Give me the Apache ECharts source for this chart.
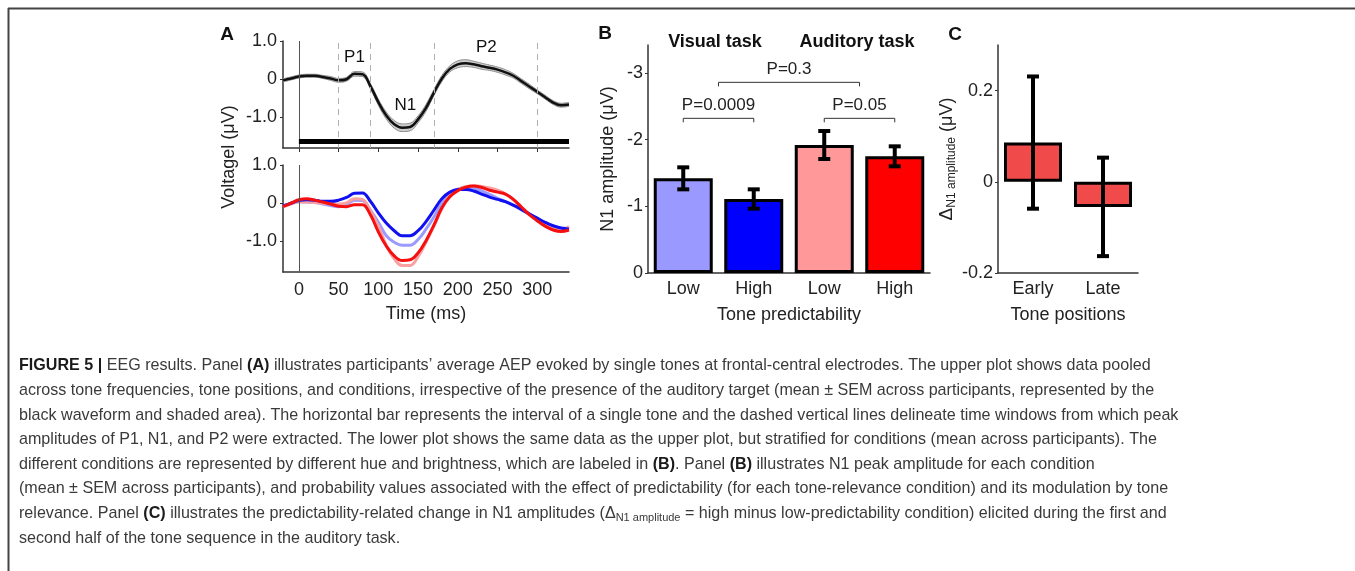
<!DOCTYPE html>
<html>
<head>
<meta charset="utf-8">
<script src="https://cdn.jsdelivr.net/npm/echarts@6/dist/echarts.min.js"></script>
<style>
    html, body {margin: 0; padding: 0; background: #fff;}
    #fig {width: 1355px; height: 571px;}
</style>
</head>
<body>
<div id="fig"></div>
<script>
// ---- Panel A data (ms, µV) ----
var times = [-20, -10, 0, 10, 20, 30, 40, 50, 60, 70, 80, 90, 100, 110, 120, 130, 140, 150, 160, 170,
    180, 190, 200, 210, 220, 230, 240, 250, 260, 270, 280, 290, 300, 310, 320, 330, 340];
var meanAEP = [-0.03, 0.02, 0.07, 0.09, 0.09, 0.06, 0.02, -0.03, 0.0, 0.14, 0.13, -0.18, -0.6, -0.95, -1.18, -1.27, -1.25, -1.05, -0.75, -0.35,
    0.02, 0.27, 0.39, 0.42, 0.39, 0.34, 0.30, 0.25, 0.18, 0.09, -0.05, -0.19, -0.33, -0.47, -0.61, -0.68, -0.66];
var semAEP = [0.04, 0.04, 0.04, 0.04, 0.04, 0.04, 0.05, 0.05, 0.05, 0.06, 0.06, 0.07, 0.08, 0.09, 0.1, 0.1, 0.1, 0.09, 0.09, 0.08,
    0.08, 0.08, 0.09, 0.09, 0.08, 0.08, 0.07, 0.07, 0.07, 0.06, 0.06, 0.06, 0.05, 0.05, 0.05, 0.05, 0.05];
var visualLow = [-0.07, -0.01, 0.04, 0.03, 0.02, -0.02, -0.06, -0.09, -0.03, 0.08, 0.07, -0.18, -0.5, -0.85, -1.02, -1.1, -1.1, -0.95, -0.68, -0.36,
    0.0, 0.25, 0.37, 0.42, 0.4, 0.32, 0.23, 0.13, 0.04, -0.06, -0.17, -0.29, -0.40, -0.51, -0.60, -0.66, -0.65];
var visualHigh = [-0.07, 0.0, 0.07, 0.09, 0.08, 0.05, 0.05, 0.08, 0.15, 0.26, 0.27, 0.05, -0.25, -0.52, -0.72, -0.85, -0.85, -0.72, -0.48, -0.18,
    0.12, 0.29, 0.36, 0.36, 0.32, 0.24, 0.16, 0.10, 0.04, -0.05, -0.16, -0.28, -0.39, -0.50, -0.59, -0.65, -0.68];
var auditoryLow = [-0.09, -0.02, 0.04, 0.03, 0.02, 0.0, -0.01, -0.02, 0.01, 0.12, 0.1, -0.2, -0.6, -1.1, -1.45, -1.63, -1.63, -1.4, -1.02, -0.6,
    -0.14, 0.2, 0.36, 0.43, 0.46, 0.44, 0.4, 0.34, 0.24, 0.09, -0.1, -0.28, -0.43, -0.56, -0.66, -0.7, -0.61];
var auditoryHigh = [-0.09, 0.0, 0.09, 0.12, 0.08, 0.03, -0.02, -0.08, -0.09, -0.04, -0.04, -0.3, -0.75, -1.12, -1.38, -1.5, -1.48, -1.3, -0.98, -0.57,
    -0.12, 0.17, 0.33, 0.42, 0.45, 0.41, 0.34, 0.29, 0.24, 0.1, -0.1, -0.3, -0.46, -0.6, -0.7, -0.74, -0.7];
var timeTicks = [0, 50, 100, 150, 200, 250, 300];
var voltTicks = [-1, 0, 1];
var windowEdges = [50, 90, 170, 300];   // dashed time windows
var toneBar = [0, 340];                 // single tone interval
var toneBarLevel = -1.62;
var peakNames = ['P1', 'N1', 'P2'];
var peakPos = [[70, 0.58], [134, -0.68], [236, 0.84]];

// ---- Panel B data ----
var bCategories = ['Low', 'High', 'Low', 'High'];
var n1Amp = [-1.42, -1.11, -1.92, -1.75];
var n1Sem = [0.165, 0.145, 0.21, 0.15];
var n1Ticks = [-3, -2, -1, 0];
var pTexts = ['P=0.0009', 'P=0.05', 'P=0.3'];
var pFrom = [0, 2, 0.5];
var pTo = [1, 3, 2.5];
var pLevel = [-2.32, -2.32, -2.86];

// ---- Panel C data ----
var cCategories = ['Early', 'Late'];
var deltaN1 = [0.086, -0.055];
var deltaSem = [0.145, 0.108];
var deltaTicks = [-0.2, 0, 0.2];

var FONT = '"Liberation Sans", Arial, Helvetica, sans-serif';
var barColors = ['#9999ff', '#0000ff', '#ff9999', '#ff0000'];

function fmtVolt(v) {
    return v === 0 ? '0' : v.toFixed(1);
}

function pairs(ys) {
    return times.map(function (t, i) { return [t, ys[i]]; });
}

// x position along a category axis, allowing halfway positions
function catPoint(api, c, v) {
    var lo = Math.floor(c), hi = Math.ceil(c);
    var a = api.coord([lo, v]), b = api.coord([hi, v]);
    return [a[0] + (b[0] - a[0]) * (c - lo), a[1]];
}

function errorBars(params, api) {
    var x = api.value(0), m = api.value(1), s = api.value(2);
    var p1 = api.coord([x, m - s]);
    var p2 = api.coord([x, m + s]);
    var cap = 6;
    var st = {stroke: '#000', lineWidth: 4};
    return {
        type: 'group',
        children: [
            {type: 'line', shape: {x1: p1[0], y1: p1[1], x2: p2[0], y2: p2[1]}, style: st},
            {type: 'line', shape: {x1: p1[0] - cap, y1: p1[1], x2: p1[0] + cap, y2: p1[1]}, style: st},
            {type: 'line', shape: {x1: p2[0] - cap, y1: p2[1], x2: p2[0] + cap, y2: p2[1]}, style: st}
        ]
    };
}

function brackets(params, api) {
    var i = params.dataIndex;
    var a = catPoint(api, pFrom[i], pLevel[i]);
    var b = catPoint(api, pTo[i], pLevel[i]);
    var st = {stroke: '#333', lineWidth: 1};
    return {
        type: 'group',
        children: [
            {type: 'line', shape: {x1: a[0], y1: a[1], x2: b[0], y2: b[1]}, style: st},
            {type: 'line', shape: {x1: a[0], y1: a[1], x2: a[0], y2: a[1] + 4}, style: st},
            {type: 'line', shape: {x1: b[0], y1: b[1], x2: b[0], y2: b[1] + 4}, style: st},
            {
                type: 'text',
                style: {
                    text: pTexts[i], x: (a[0] + b[0]) / 2, y: a[1] - 13,
                    align: 'center', verticalAlign: 'middle',
                    fill: '#222', font: '17px ' + FONT
                }
            }
        ]
    };
}

// SEM band as one filled polygon (upper edge then lower edge back)
function semBand(params, api) {
    if (params.dataIndex !== 0) {
        return null;
    }
    var up = [], dn = [];
    times.forEach(function (t, i) {
        up.push(api.coord([t, meanAEP[i] + semAEP[i]]));
        dn.push(api.coord([t, meanAEP[i] - semAEP[i]]));
    });
    return {
        type: 'polygon',
        shape: {points: up.concat(dn.reverse()), smooth: 0.35},
        style: {fill: '#cdcdcd'}
    };
}

function peakLabel(params, api) {
    var p = api.coord([api.value(0), api.value(1)]);
    return {
        type: 'text',
        style: {
            text: peakNames[params.dataIndex], x: p[0], y: p[1],
            align: 'center', verticalAlign: 'middle', fill: '#111', font: '17px ' + FONT
        }
    };
}

var axisLineStyle = {color: '#333', width: 1.5};

var chart = echarts.init(document.getElementById('fig'));
var option = {
    animation: false,
    textStyle: {fontFamily: FONT},
    grid: [
        {left: 283, top: 41, width: 286, height: 107},   // A upper
        {left: 283, top: 165, width: 286, height: 107},  // A lower
        {left: 648, top: 45, width: 282, height: 228},   // B
        {left: 998, top: 45, width: 140, height: 228}    // C
    ],
    xAxis: [
        {
            gridIndex: 0, type: 'value', min: -20, max: 340,
            splitLine: {show: false},
            axisLine: {onZero: false, lineStyle: axisLineStyle},
            axisTick: {show: true, length: 4, customValues: timeTicks, lineStyle: {color: '#333'}},
            axisLabel: {show: false}
        },
        {
            gridIndex: 1, type: 'value', min: -20, max: 340,
            splitLine: {show: false},
            axisLine: {onZero: false, lineStyle: axisLineStyle},
            axisTick: {show: false},
            axisLabel: {customValues: timeTicks, fontSize: 18, color: '#222', margin: 9},
            name: 'Time (ms)', nameLocation: 'middle', nameGap: 33,
            nameTextStyle: {fontSize: 18, color: '#222'}
        },
        {
            gridIndex: 2, type: 'category', data: bCategories,
            axisLine: {onZero: false, lineStyle: axisLineStyle},
            axisTick: {show: false},
            axisLabel: {fontSize: 18, color: '#222', margin: 7},
            name: 'Tone predictability', nameLocation: 'middle', nameGap: 33,
            nameTextStyle: {fontSize: 18, color: '#222'}
        },
        {
            gridIndex: 3, type: 'category', data: cCategories,
            axisLine: {onZero: false, lineStyle: axisLineStyle},
            axisTick: {show: false},
            axisLabel: {fontSize: 18, color: '#222', margin: 7},
            name: 'Tone positions', nameLocation: 'middle', nameGap: 33,
            nameTextStyle: {fontSize: 18, color: '#222'}
        }
    ],
    yAxis: [
        {
            gridIndex: 0, type: 'value', min: -1.8, max: 1.0,
            splitLine: {show: false},
            axisLine: {show: true, onZero: false, lineStyle: axisLineStyle},
            axisTick: {show: true, length: 3, customValues: voltTicks},
            axisLabel: {customValues: voltTicks, formatter: fmtVolt, fontSize: 18, color: '#222', margin: 6}
        },
        {
            gridIndex: 1, type: 'value', min: -1.8, max: 1.0,
            splitLine: {show: false},
            axisLine: {show: true, onZero: false, lineStyle: axisLineStyle},
            axisTick: {show: true, length: 3, customValues: voltTicks},
            axisLabel: {customValues: voltTicks, formatter: fmtVolt, fontSize: 18, color: '#222', margin: 6}
        },
        {
            gridIndex: 2, type: 'value', min: -3.42, max: 0, inverse: true,
            splitLine: {show: false},
            axisLine: {show: true, onZero: false, lineStyle: axisLineStyle},
            axisTick: {show: true, length: 3, customValues: n1Ticks},
            axisLabel: {customValues: n1Ticks, fontSize: 18, color: '#222', margin: 5},
            name: 'N1 amplitude (μV)', nameLocation: 'middle', nameGap: 31,
            nameTextStyle: {fontSize: 18, color: '#222'}
        },
        {
            gridIndex: 3, type: 'value', min: -0.2, max: 0.3,
            splitLine: {show: false},
            axisLine: {show: true, onZero: false, lineStyle: axisLineStyle},
            axisTick: {show: true, length: 3, customValues: deltaTicks},
            axisLabel: {customValues: deltaTicks, formatter: fmtVolt, fontSize: 18, color: '#222', margin: 5},
            name: '{d|Δ}{s|N1 amplitude}{n| (μV)}', nameLocation: 'middle', nameGap: 15,
            nameTextStyle: {
                fontSize: 18, color: '#222',
                rich: {
                    d: {fontSize: 19, lineHeight: 22, color: '#222', fontFamily: FONT},
                    s: {fontSize: 12, lineHeight: 12, verticalAlign: 'bottom', color: '#222', fontFamily: FONT},
                    n: {fontSize: 18, lineHeight: 22, color: '#222', fontFamily: FONT}
                }
            }
        }
    ],
    series: [
        // A upper: SEM band, its edges, mean waveform
        {
            type: 'custom', xAxisIndex: 0, yAxisIndex: 0, silent: true, clip: true,
            encode: {x: 0, y: 1},
            data: pairs(meanAEP),
            renderItem: semBand
        },
        {
            type: 'line', xAxisIndex: 0, yAxisIndex: 0, silent: true,
            data: times.map(function (t, i) { return [t, meanAEP[i] - semAEP[i]]; }),
            symbol: 'none', smooth: 0.4,
            lineStyle: {color: '#8c8c8c', width: 1}
        },
        {
            type: 'line', xAxisIndex: 0, yAxisIndex: 0, silent: true,
            data: times.map(function (t, i) { return [t, meanAEP[i] + semAEP[i]]; }),
            symbol: 'none', smooth: 0.4,
            lineStyle: {color: '#8c8c8c', width: 1}
        },
        {
            type: 'line', xAxisIndex: 0, yAxisIndex: 0, silent: true,
            data: pairs(meanAEP), symbol: 'none', smooth: 0.4,
            lineStyle: {color: '#111', width: 2.5},
            markLine: {
                silent: true, symbol: ['none', 'none'], label: {show: false},
                data: [{xAxis: 0, lineStyle: {type: 'solid', color: '#555', width: 1}}]
                    .concat(windowEdges.map(function (e) {
                        return {xAxis: e, lineStyle: {type: [6, 5], color: '#b0b0b0', width: 1}};
                    }))
                    .concat([[
                        {coord: [toneBar[0], toneBarLevel], lineStyle: {type: 'solid', color: '#000', width: 5}},
                        {coord: [toneBar[1], toneBarLevel]}
                    ]])
            }
        },
        {
            type: 'custom', xAxisIndex: 0, yAxisIndex: 0, silent: true, z: 6,
            encode: {x: 0, y: 1},
            data: peakPos,
            renderItem: peakLabel
        },
        // A lower: condition waveforms
        {
            type: 'line', xAxisIndex: 1, yAxisIndex: 1, silent: true,
            data: pairs(visualLow), symbol: 'none', smooth: 0.4,
            lineStyle: {color: '#9a9aff', width: 3},
            markLine: {
                silent: true, symbol: ['none', 'none'], label: {show: false},
                data: [{xAxis: 0, lineStyle: {type: 'solid', color: '#555', width: 1}}]
            }
        },
        {
            type: 'line', xAxisIndex: 1, yAxisIndex: 1, silent: true,
            data: pairs(auditoryLow), symbol: 'none', smooth: 0.4,
            lineStyle: {color: '#f9a0a0', width: 3}
        },
        {
            type: 'line', xAxisIndex: 1, yAxisIndex: 1, silent: true,
            data: pairs(visualHigh), symbol: 'none', smooth: 0.4,
            lineStyle: {color: '#1010f0', width: 3}
        },
        {
            type: 'line', xAxisIndex: 1, yAxisIndex: 1, silent: true,
            data: pairs(auditoryHigh), symbol: 'none', smooth: 0.4,
            lineStyle: {color: '#f51010', width: 3}
        },
        // B: bars, error bars, p-value brackets
        {
            type: 'bar', xAxisIndex: 2, yAxisIndex: 2, silent: true, barWidth: 59,
            data: n1Amp.map(function (v, i) {
                return {value: v, itemStyle: {color: barColors[i], borderColor: '#000', borderWidth: 3}};
            })
        },
        {
            type: 'custom', xAxisIndex: 2, yAxisIndex: 2, silent: true,
            encode: {x: 0, y: 1},
            data: n1Amp.map(function (v, i) { return [i, v, n1Sem[i]]; }),
            renderItem: errorBars, z: 5
        },
        {
            type: 'custom', xAxisIndex: 2, yAxisIndex: 2, silent: true,
            encode: {x: 0, y: 1},
            data: pLevel.map(function (l, i) { return [pFrom[i], l]; }),
            renderItem: brackets, z: 5
        },
        // C: bars and error bars
        {
            type: 'bar', xAxisIndex: 3, yAxisIndex: 3, silent: true, barWidth: 58,
            data: deltaN1,
            itemStyle: {color: '#f04a4a', borderColor: '#000', borderWidth: 3}
        },
        {
            type: 'custom', xAxisIndex: 3, yAxisIndex: 3, silent: true,
            encode: {x: 0, y: 1},
            data: deltaN1.map(function (v, i) { return [i, v, deltaSem[i]]; }),
            renderItem: errorBars, z: 5
        }
    ],
    graphic: []
};

// frame lines
option.graphic.push({type: 'line', silent: true, shape: {x1: 8, y1: 8.5, x2: 1355, y2: 8.5}, style: {stroke: '#444', lineWidth: 2}});
option.graphic.push({type: 'line', silent: true, shape: {x1: 8.5, y1: 8, x2: 8.5, y2: 571}, style: {stroke: '#444', lineWidth: 2}});

// panel letters and titles
var heads = [
    ['A', 227, 35, 'bold 19px '], ['B', 605, 34, 'bold 19px '], ['C', 955, 35, 'bold 19px '],
    ['Visual task', 715, 42, 'bold 18px '], ['Auditory task', 857, 42, 'bold 18px ']
];
heads.forEach(function (h) {
    option.graphic.push({
        type: 'text', silent: true, x: h[1], y: h[2],
        style: {text: h[0], font: h[3] + FONT, fill: '#111', align: 'center', verticalAlign: 'middle'}
    });
});
option.graphic.push({
    type: 'text', silent: true, x: 229, y: 157, rotation: Math.PI / 2,
    style: {text: 'Voltagel (μV)', font: '18px ' + FONT, fill: '#222', align: 'center', verticalAlign: 'middle'}
});

// caption
var captionLines = [
    '{b|FIGURE 5 |} EEG results. Panel {b|(A)} illustrates participants\u2019 average AEP evoked by single tones at frontal-central electrodes. The upper plot shows data pooled',
    'across tone frequencies, tone positions, and conditions, irrespective of the presence of the auditory target (mean \u00b1 SEM across participants, represented by the',
    'black waveform and shaded area). The horizontal bar represents the interval of a single tone and the dashed vertical lines delineate time windows from which peak',
    'amplitudes of P1, N1, and P2 were extracted. The lower plot shows the same data as the upper plot, but stratified for conditions (mean across participants). The',
    'different conditions are represented by different hue and brightness, which are labeled in {b|(B)}. Panel {b|(B)} illustrates N1 peak amplitude for each condition',
    '(mean \u00b1 SEM across participants), and probability values associated with the effect of predictability (for each tone-relevance condition) and its modulation by tone',
    'relevance. Panel {b|(C)} illustrates the predictability-related change in N1 amplitudes (\u0394{s|N1 amplitude} = high minus low-predictability condition) elicited during the first and',
    'second half of the tone sequence in the auditory task.'
];
var capSize = 16.1;
captionLines.forEach(function (line, i) {
    option.graphic.push({
        type: 'text', silent: true, x: 19, y: 366 + i * 24.6,
        style: {
            text: line, fill: '#3a3a3a', fontSize: capSize, fontFamily: FONT,
            verticalAlign: 'middle', lineHeight: 20,
            rich: {
                b: {fontWeight: 'bold', fontSize: capSize, fontFamily: FONT, fill: '#1a1a1a', lineHeight: 20},
                s: {fontSize: 11, fontFamily: FONT, fill: '#3a3a3a', lineHeight: 13, verticalAlign: 'bottom'}
            }
        }
    });
});

chart.setOption(option);
</script>
</body>
</html>
